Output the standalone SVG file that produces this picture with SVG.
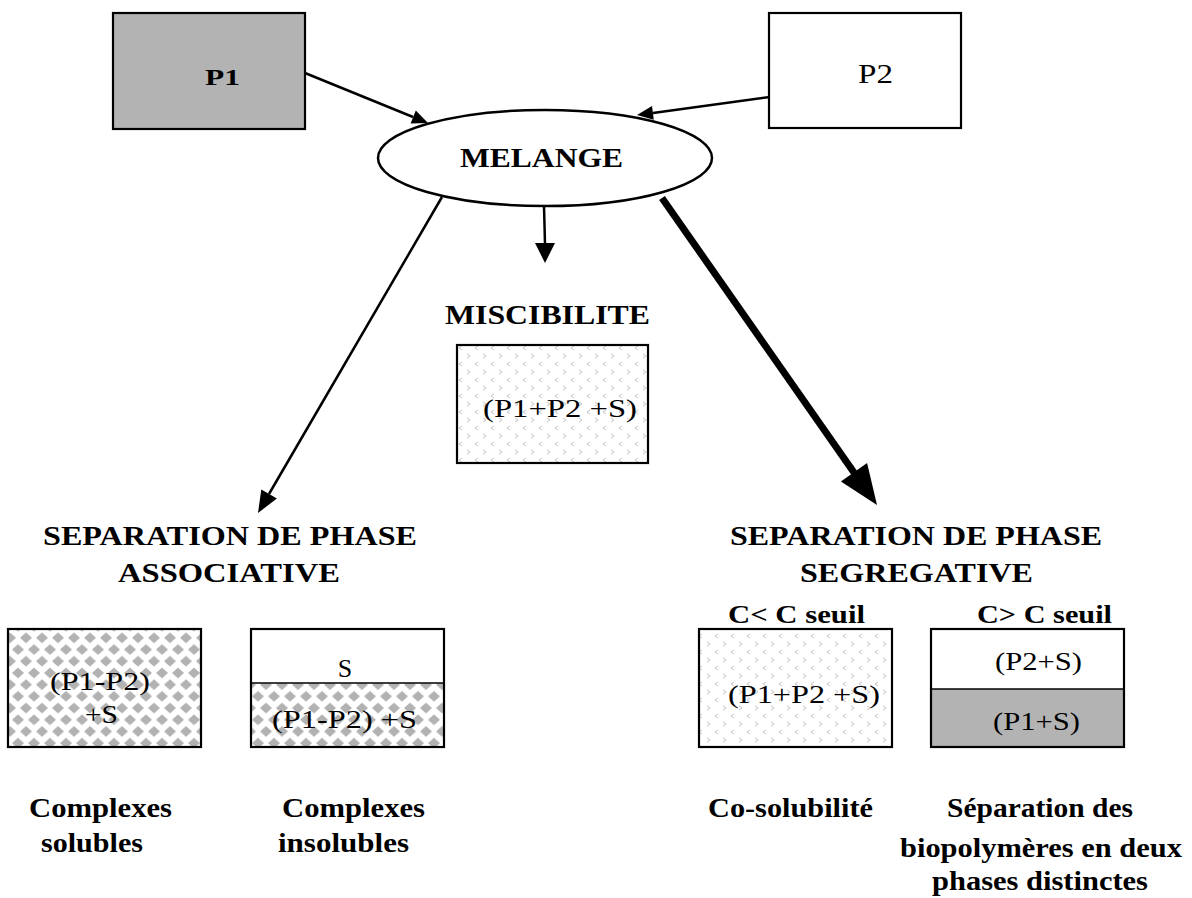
<svg xmlns="http://www.w3.org/2000/svg" width="1192" height="898" viewBox="0 0 1192 898">
<style>
.box{stroke:#000;stroke-width:2.2;}
.b{font-family:"Liberation Serif","DejaVu Serif",serif;font-weight:bold;fill:#000;}
.r{font-family:"Liberation Serif","DejaVu Serif",serif;fill:#000;}
.ln{stroke:#000;fill:none;stroke-width:2.5;}
.ah{fill:#000;stroke:none;}
</style>
<defs>
<pattern id="diam" patternUnits="userSpaceOnUse" x="2" y="632" width="16" height="23.4">
<rect width="16" height="23.4" fill="#fff"/>
<polygon points="8,0.6 14,5.85 8,11.1 2,5.85" fill="#b2b2b2"/>
<polygon points="0,12.3 6,17.55 0,22.8 -6,17.55" fill="#b2b2b2"/>
<polygon points="16,12.3 22,17.55 16,22.8 10,17.55" fill="#b2b2b2"/>
</pattern>
<pattern id="dots" patternUnits="userSpaceOnUse" x="0" y="0" width="16" height="16">
<rect width="16" height="16" fill="#fff"/>
<polyline points="3,2 6,4 3,6" fill="none" stroke="#bdbdbd" stroke-width="0.9"/>
<polyline points="14,10 11,12 14,14" fill="none" stroke="#bdbdbd" stroke-width="0.9"/>
</pattern>
</defs>
<rect width="1192" height="898" fill="#fff"/>

<g id="connectors">
<line class="ln" x1="305" y1="73" x2="413" y2="117"/>
<polygon class="ah" points="428,123 410.6,123.5 415.8,110.5"/>
<line class="ln" x1="770" y1="97" x2="653" y2="113"/>
<polygon class="ah" points="637,115 652,106 653.8,119.8"/>
<line class="ln" x1="544" y1="206" x2="545" y2="244"/>
<polygon class="ah" points="545,263 535,243 555,243"/>
<line class="ln" x1="442" y1="197" x2="269" y2="494"/>
<polygon class="ah" points="258,513 261.3,489.5 276.9,498.5"/>
<line class="ln" style="stroke-width:7" x1="662" y1="198" x2="855" y2="474"/>
<polygon class="ah" points="877,505 840.9,481.4 867.1,463"/>
</g>

<g id="p1">
<rect class="box" x="113" y="13" width="192" height="116" fill="#b3b3b3"/>
<text class="b" x="205" y="85" font-size="23" textLength="35" lengthAdjust="spacingAndGlyphs">P1</text>
</g>
<g id="p2">
<rect class="box" x="769" y="13" width="192" height="115" fill="#fff"/>
<text class="r" x="858" y="83" font-size="27" textLength="35" lengthAdjust="spacingAndGlyphs">P2</text>
</g>
<g id="melange">
<ellipse cx="545" cy="158" rx="167" ry="48" fill="#fff" stroke="#000" stroke-width="2.5"/>
<text class="b" x="460" y="167" font-size="28" textLength="163" lengthAdjust="spacingAndGlyphs">MELANGE</text>
</g>
<g id="miscibilite">
<text class="b" x="445" y="324" font-size="28" textLength="205" lengthAdjust="spacingAndGlyphs">MISCIBILITE</text>
<rect class="box" x="457" y="345" width="191" height="118" fill="url(#dots)"/>
<text class="r" x="483" y="417" font-size="26" textLength="154" lengthAdjust="spacingAndGlyphs">(P1+P2 +S)</text>
</g>
<g id="associative">
<text class="b" x="43" y="545" font-size="27" textLength="374" lengthAdjust="spacingAndGlyphs">SEPARATION DE PHASE</text>
<text class="b" x="118" y="582" font-size="27" textLength="222" lengthAdjust="spacingAndGlyphs">ASSOCIATIVE</text>
</g>
<g id="segregative">
<text class="b" x="730" y="545" font-size="27" textLength="372" lengthAdjust="spacingAndGlyphs">SEPARATION DE PHASE</text>
<text class="b" x="800" y="582" font-size="27" textLength="233" lengthAdjust="spacingAndGlyphs">SEGREGATIVE</text>
</g>
<g id="solubles">
<rect class="box" x="8" y="629" width="193" height="118" fill="url(#diam)"/>
<text class="r" x="50" y="690" font-size="26" textLength="100" lengthAdjust="spacingAndGlyphs">(P1-P2)</text>
<text class="r" x="85" y="723" font-size="26" textLength="33" lengthAdjust="spacingAndGlyphs">+S</text>
<text class="b" x="29" y="817" font-size="28" textLength="143" lengthAdjust="spacingAndGlyphs">Complexes</text>
<text class="b" x="41" y="852" font-size="28" textLength="102" lengthAdjust="spacingAndGlyphs">solubles</text>
</g>
<g id="insolubles">
<rect x="251" y="683" width="193" height="64" fill="url(#diam)"/>
<rect x="251" y="629" width="193" height="54" fill="#fff"/>
<line x1="251" y1="683" x2="444" y2="683" stroke="#000" stroke-width="1.5"/>
<rect class="box" x="251" y="629" width="193" height="118" fill="none"/>
<text class="r" x="345" y="677" font-size="26" text-anchor="middle">S</text>
<text class="r" x="272" y="728" font-size="26" textLength="145" lengthAdjust="spacingAndGlyphs">(P1-P2) +S</text>
<text class="b" x="282" y="817" font-size="28" textLength="143" lengthAdjust="spacingAndGlyphs">Complexes</text>
<text class="b" x="278" y="852" font-size="28" textLength="131" lengthAdjust="spacingAndGlyphs">insolubles</text>
</g>
<g id="cosolubilite">
<text class="b" x="728" y="623" font-size="25" textLength="137" lengthAdjust="spacingAndGlyphs">C&lt; C seuil</text>
<rect class="box" x="699" y="629" width="193" height="118" fill="url(#dots)"/>
<text class="r" x="728" y="703" font-size="26" textLength="152" lengthAdjust="spacingAndGlyphs">(P1+P2 +S)</text>
<text class="b" x="708" y="817" font-size="28" textLength="165" lengthAdjust="spacingAndGlyphs">Co-solubilité</text>
</g>
<g id="separation">
<text class="b" x="977" y="623" font-size="25" textLength="135" lengthAdjust="spacingAndGlyphs">C&gt; C seuil</text>
<rect x="931" y="689" width="193" height="58" fill="#b3b3b3"/>
<line x1="931" y1="689" x2="1124" y2="689" stroke="#000" stroke-width="1.5"/>
<rect class="box" x="931" y="629" width="193" height="118" fill="none"/>
<text class="r" x="995" y="670" font-size="26" textLength="87" lengthAdjust="spacingAndGlyphs">(P2+S)</text>
<text class="r" x="993" y="730" font-size="26" textLength="87" lengthAdjust="spacingAndGlyphs">(P1+S)</text>
<text class="b" x="947" y="817" font-size="28" textLength="186" lengthAdjust="spacingAndGlyphs">Séparation des</text>
<text class="b" x="900" y="857" font-size="28" textLength="282" lengthAdjust="spacingAndGlyphs">biopolymères en deux</text>
<text class="b" x="932" y="890" font-size="28" textLength="216" lengthAdjust="spacingAndGlyphs">phases distinctes</text>
</g>
</svg>
